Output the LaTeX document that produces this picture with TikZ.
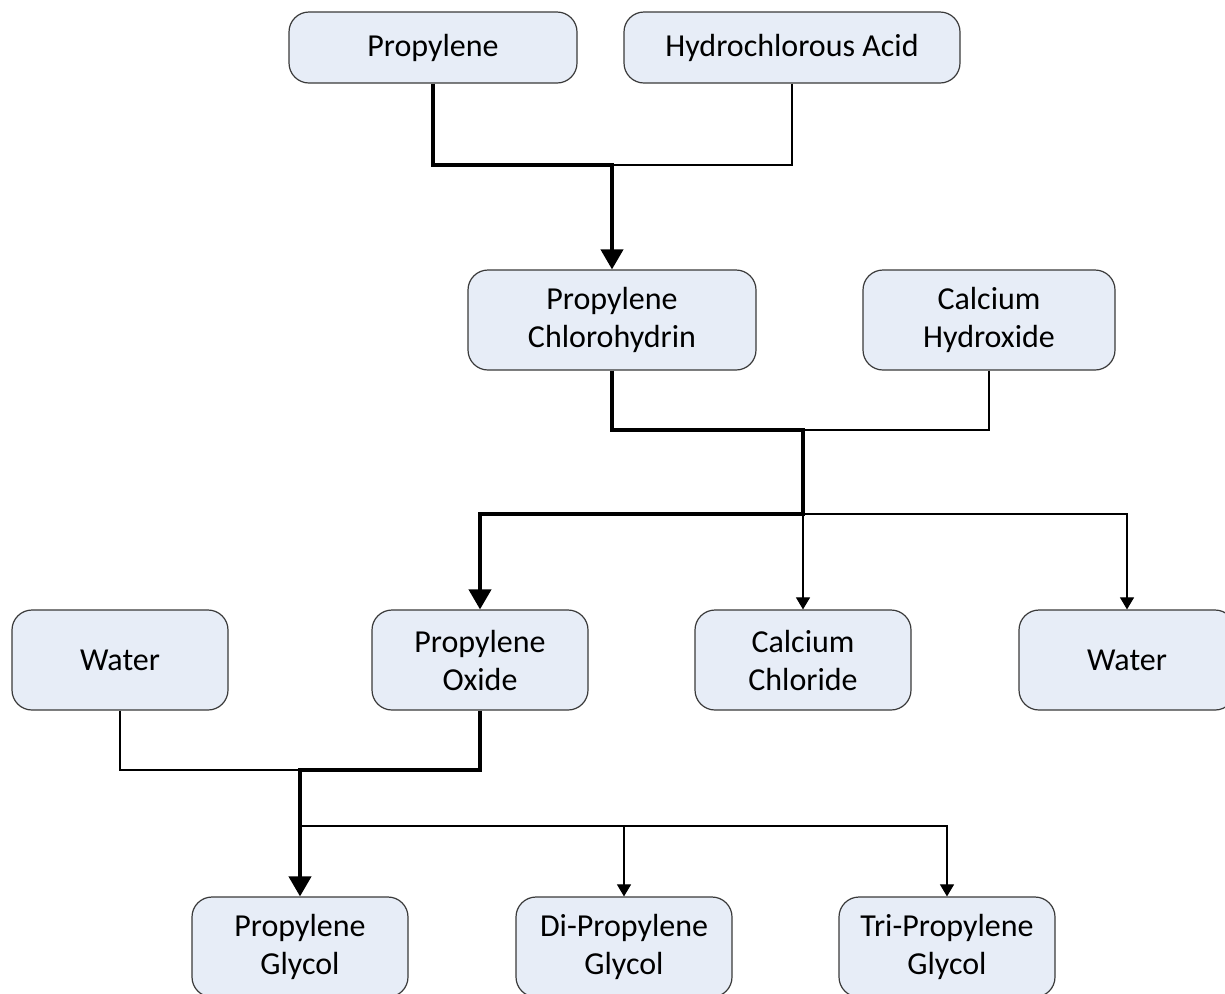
\documentclass[tikz,border=0pt]{standalone}
\usepackage{fontspec}
\setmainfont{Carlito}
\usetikzlibrary{arrows.meta}
\definecolor{boxfill}{HTML}{E7EDF7}
\definecolor{boxdraw}{HTML}{3A3A3A}
\begin{document}
\begin{tikzpicture}[x=0.5pt,y=-0.5pt,
  box/.style={draw=boxdraw, line width=0.6pt, fill=boxfill, rounded corners=10pt,
    minimum width=108pt, minimum height=50pt, align=center, inner sep=0pt,
    font=\fontsize{16}{19}\selectfont},
  mainflow/.style={line width=2pt, line join=miter},
  mainarrow/.style={mainflow, -{Triangle[length=10pt,width=11pt]}},
  sideflow/.style={line width=0.55pt},
  sidearrow/.style={sideflow, -{Triangle[length=6pt,width=7pt]}}]
\useasboundingbox (0,0) rectangle (1225,993);
\clip (0,0) rectangle (1225,993);
% nodes
\node[box, minimum width=144pt, minimum height=35.5pt] (prop) at (433,47.5) {Propylene};
\node[box, minimum width=168pt, minimum height=35.5pt] (hca) at (792,47.5) {Hydrochlorous Acid};
\node[box, minimum width=144pt] (pc) at (612,320) {Propylene\\Chlorohydrin};
\node[box, minimum width=126pt] (ch) at (989,320) {Calcium\\Hydroxide};
\node[box] (w1) at (120,660) {Water};
\node[box] (po) at (480,660) {Propylene\\Oxide};
\node[box] (cc) at (803,660) {Calcium\\Chloride};
\node[box] (w2) at (1127,660) {Water};
\node[box] (pg) at (300,947) {Propylene\\Glycol};
\node[box] (dpg) at (624,947) {Di-Propylene\\Glycol};
\node[box] (tpg) at (947,947) {Tri-Propylene\\Glycol};
% junctions
\coordinate (j1) at (612,165);
\coordinate (j2) at (803,430);
\coordinate (j3) at (803,514);
\coordinate (j4) at (300,770);
\coordinate (j5) at (300,826);
% thin connectors
\draw[sideflow] (hca.south) |- (j1);
\draw[sideflow] (ch.south) |- (j2);
\draw[sidearrow] (j3) -- (cc.north);
\draw[sidearrow] (j3) -| (w2.north);
\draw[sideflow] (w1.south) |- (j4);
\draw[sidearrow] (j5) -| (dpg.north);
\draw[sidearrow] (j5) -| (tpg.north);
% thick main path
\draw[mainarrow] (prop.south) |- (j1) -- (pc.north);
\draw[mainarrow] (pc.south) |- (j2) -- (j3) -| (po.north);
\draw[mainarrow] (po.south) |- (j4) -- (pg.north);
\end{tikzpicture}
\end{document}
